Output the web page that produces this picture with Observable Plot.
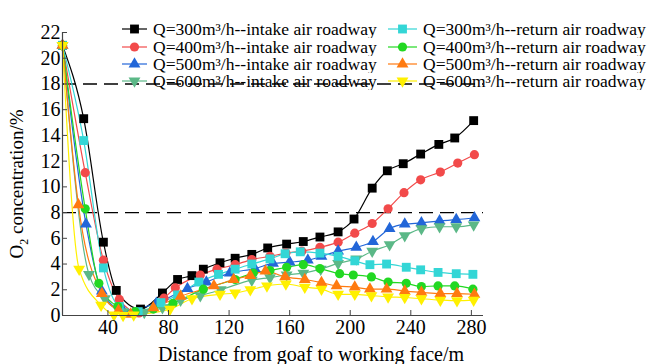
<!DOCTYPE html>
<html><head><meta charset="utf-8">
<script src="https://cdn.jsdelivr.net/npm/d3@7"></script>
<script src="https://cdn.jsdelivr.net/npm/@observablehq/plot@0.6"></script>
<style>
body{margin:0;background:#fff;font-family:'Liberation Serif',serif;}
#wrap{position:relative;width:650px;height:364px;overflow:hidden;font-family:'Liberation Serif',serif;color:#000;}
#wrap svg.plot{position:absolute;left:0;top:0;}
.lg{position:absolute;display:flex;align-items:center;height:16px;white-space:nowrap;font-family:'Liberation Serif',serif;}
.lg svg{margin-right:6px;flex:none;}
.lg span{display:inline-block;font-size:15px;line-height:16px;height:16px;transform:scale(1.17,1.12);transform-origin:left center;}
#xl{position:absolute;font-size:20px;white-space:nowrap;transform:translateX(-50%);font-family:'Liberation Serif',serif;}
#yl{position:absolute;font-size:19px;white-space:nowrap;transform:translate(-50%,-50%) rotate(-90deg);font-family:'Liberation Serif',serif;}
#yl sub{font-size:12px;}
</style></head><body><div id="wrap"></div>
<script>
const seriesNames = [
  "Q=300m³/h--intake air roadway","Q=400m³/h--intake air roadway",
  "Q=500m³/h--intake air roadway","Q=600m³/h--intake air roadway",
  "Q=300m³/h--return air roadway","Q=400m³/h--return air roadway",
  "Q=500m³/h--return air roadway","Q=600m³/h--return air roadway"
];
const xTicks = [40, 80, 120, 160, 200, 240, 280];
const yTicks = [0, 2, 4, 6, 8, 10, 12, 14, 16, 18, 20, 22];
const limitLines = [18, 8];

const q300in = [[10,21],[24,15.3],[37,5.7],[45.5,1.95],[61.5,0.5],[76,1.75],[86,2.8],[95.5,3.1],[103,3.6],[114,4.1],[124,4.45],[135,4.75],[145.5,5.25],[158,5.55],[169,5.75],[180,6.1],[192,6.5],[202.5,7.5],[214.5,9.9],[224.5,11.25],[235,11.8],[246.5,12.55],[258.5,13.3],[269,13.8],[281.5,15.15]];
const q400in = [[10,21],[25,11.1],[37,4.3],[47.5,1.25],[60.5,0.2],[77,1.35],[84.5,2.15],[101,3.15],[112,3.6],[124,3.95],[135,4.35],[147,4.6],[157.5,4.85],[168,5.0],[180,5.3],[192,5.7],[203,6.4],[214.5,7.15],[225,8.3],[235.5,9.55],[246.5,10.55],[259.5,11.15],[271,11.85],[282,12.5]];
const q500in = [[10,21],[25.5,7.1],[36,1.9],[50,0.4],[72,0.95],[92.5,2.1],[105,2.6],[120.5,3.3],[137,3.65],[149,4.05],[160,4.15],[172,4.3],[181,4.6],[192,5.0],[204,5.3],[215,5.75],[226,6.75],[236,7.1],[247,7.2],[259,7.35],[270,7.45],[282,7.6]];
const q600in = [[10,21],[27.5,3.2],[38,1.3],[50,0.3],[64,0.25],[76,0.6],[88,1.2],[101,1.55],[114.5,2.0],[135,2.75],[147,2.95],[158,3.15],[169,3.3],[180.5,3.6],[192,4.05],[204,4.4],[214.5,5.0],[226,5.5],[236,6.2],[247,6.75],[259,6.9],[270,6.9],[281.5,7.05]];
const q300ret = [[10,21],[24,13.6],[37,3.7],[47.5,0.7],[60,0.3],[75,1.0],[86,1.6],[100,2.6],[113,3.2],[124,3.6],[135,4.0],[147,4.4],[157,4.8],[167,4.95],[180,4.85],[192,4.6],[203,4.25],[213,3.95],[224,4.0],[237,3.75],[246.5,3.55],[258,3.35],[270,3.25],[281,3.2]];
const q400ret = [[10,21],[25,8.3],[34,2.5],[46.5,0.7],[58,0.3],[70,0.5],[83,0.95],[103,2.05],[124,2.8],[136,3.3],[147,3.5],[158,3.75],[169,3.95],[180,3.65],[193,3.25],[202,3.15],[214,3.0],[225,2.6],[237,2.5],[247,2.25],[258,2.3],[269,2.3],[281,2.05]];
const q500ret = [[10,21],[20.5,8.6],[36,1.7],[47,0.4],[55,0.1],[70,0.6],[88,1.5],[110,2.3],[123,2.8],[134,3.1],[144,3.45],[157,3.0],[170,2.8],[181,2.55],[191,2.3],[203,2.2],[213,2.05],[224,2.05],[236,1.9],[247,1.8],[259.5,1.7],[270.5,1.7],[282,1.65]];
const q600ret = [[10,21],[21,3.6],[35.5,0.8],[44,0.05],[50,0],[57,0.05],[81,0.5],[95.5,1.3],[114,1.65],[124,1.75],[134,2.0],[145,2.3],[157.5,2.45],[170,2.2],[181,2.05],[192,1.65],[203,1.65],[214,1.55],[225,1.45],[236,1.4],[247,1.3],[259.5,1.2],[270.5,1.15],[281.5,1.2]];

const colors = ["#000000","#f24a4a","#2266d8","#5bb887","#33d6d6","#22d822","#ff7a10","#fff000"];

const triDown = {draw(ctx, size){
  const y = -Math.sqrt(size / (Math.sqrt(3) * 3)), s = Math.sqrt(3);
  ctx.moveTo(0, -y * 2); ctx.lineTo(-s * y, y); ctx.lineTo(s * y, y); ctx.closePath();
}};
const symbols = ["square","circle","triangle",triDown,"square","circle","triangle",triDown];
const radii = [5.0, 4.6, 4.4, 4.4, 5.0, 4.6, 4.4, 4.4];
const allSeries = [q300in,q400in,q500in,q600in,q300ret,q400ret,q500ret,q600ret];

const seriesMarks = [];
allSeries.forEach((s, i) => {
  seriesMarks.push(Plot.line(s, {x: d => d[0], y: d => d[1], stroke: colors[i], strokeWidth: 1.2, curve: "monotone-x", clip: true}));
});
allSeries.forEach((s, i) => {
  seriesMarks.push(Plot.dot(s, {x: d => d[0], y: d => d[1], fill: colors[i], stroke: "none", symbol: symbols[i], r: radii[i]}));
});

const chart = Plot.plot({
  width: 650, height: 364,
  marginLeft: 62, marginRight: 167, marginTop: 32, marginBottom: 49,
  x: {domain: [10, 288]},
  y: {domain: [0, 22]},
  style: {fontFamily: "Liberation Serif, serif", fontSize: "20px", color: "#000", background: "transparent"},
  marks: [
    Plot.ruleY(limitLines, {stroke: "#000", strokeWidth: 1.4, strokeDasharray: "14,7"}),
    ...seriesMarks,
    Plot.ruleX([10], {stroke: "#444", strokeWidth: 1.2}),
    Plot.ruleY([0], {stroke: "#444", strokeWidth: 1.2}),
    Plot.axisX({ticks: xTicks, tickSize: -5, tickPadding: 9, fontSize: 20, label: null, stroke: "#444"}),
    Plot.axisY({ticks: yTicks, tickSize: -5, tickPadding: 7, fontSize: 20, label: null, stroke: "#444"})
  ]
});
chart.classList.add("plot");
const wrap = document.getElementById("wrap");
wrap.appendChild(chart);

function swatch(i, w) {
  const ns = "http://www.w3.org/2000/svg";
  const svg = document.createElementNS(ns, "svg");
  svg.setAttribute("width", w); svg.setAttribute("height", 14);
  const ln = document.createElementNS(ns, "line");
  ln.setAttribute("x1", 0); ln.setAttribute("x2", w); ln.setAttribute("y1", 7); ln.setAttribute("y2", 7);
  ln.setAttribute("stroke", colors[i]); ln.setAttribute("stroke-width", 1.2);
  svg.appendChild(ln);
  const p = document.createElementNS(ns, "path");
  const sym = typeof symbols[i] === "string" ? {square: d3.symbolSquare, circle: d3.symbolCircle, triangle: d3.symbolTriangle}[symbols[i]] : symbols[i];
  p.setAttribute("d", d3.symbol(sym, Math.PI * radii[i] * radii[i])());
  p.setAttribute("transform", `translate(${w / 2},7)`);
  p.setAttribute("fill", colors[i]);
  svg.appendChild(p);
  return svg;
}
const rowsY = [21, 38.5, 55.5, 73];
seriesNames.forEach((name, i) => {
  const col = Math.floor(i / 4), row = i % 4;
  const div = document.createElement("div");
  div.className = "lg";
  div.style.left = (col === 0 ? 122 : 388) + "px";
  div.style.top = rowsY[row] + "px";
  div.appendChild(swatch(i, col === 0 ? 25 : 29));
  const sp = document.createElement("span");
  sp.textContent = name;
  div.appendChild(sp);
  wrap.appendChild(div);
});
const xl = document.createElement("div");
xl.id = "xl"; xl.style.left = "311px"; xl.style.top = "343px";
xl.textContent = "Distance from goaf to working face/m";
wrap.appendChild(xl);
const yl = document.createElement("div");
yl.id = "yl"; yl.style.left = "19px"; yl.style.top = "184px";
yl.innerHTML = "O<sub>2</sub> concentration/%";
wrap.appendChild(yl);
</script>
</body></html>
